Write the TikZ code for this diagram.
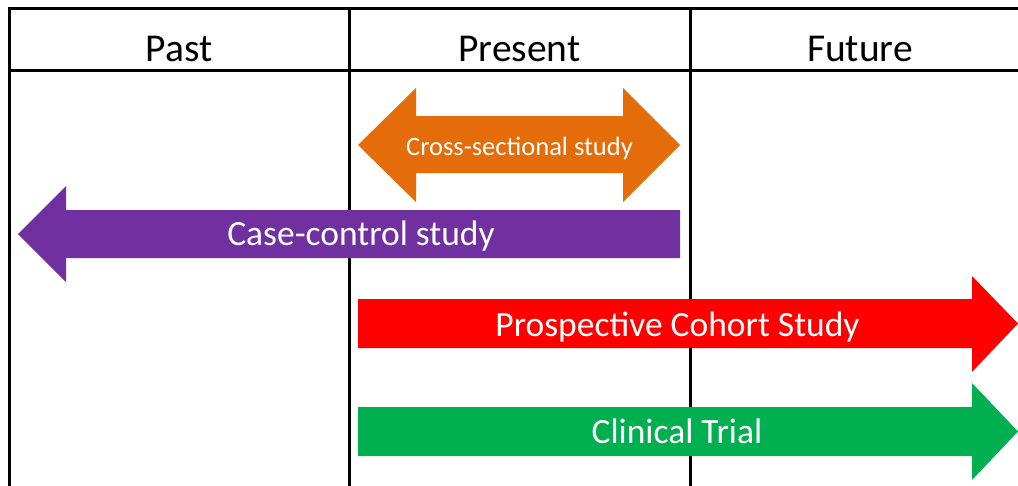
\documentclass[tikz,border=0pt]{standalone}
\usepackage{fontspec}
\setmainfont{Carlito}
\usetikzlibrary{positioning}
\definecolor{xsorange}{HTML}{E46C0A}
\definecolor{ccpurple}{HTML}{7030A0}
\definecolor{pcred}{HTML}{FF0000}
\definecolor{ctgreen}{HTML}{00B050}

\begin{document}
\begin{tikzpicture}[x=1pt,y=-1pt,
	gridline/.style={line width=3pt,black},
	hdnode/.style={anchor=base,inner sep=0pt,font=\fontsize{39.5}{40}\selectfont},
	arnode/.style={anchor=base,inner sep=0pt,text=white,font=\fontsize{35.5}{36}\selectfont}]
	\useasboundingbox (0,0) rectangle (1018,485);
	% table
	\draw[gridline] (1030,8) -- (9,8) -- (9,495);
	\draw[gridline] (9,70) -- (1030,70);
	\draw[gridline] (349,8) -- (349,495);
	\draw[gridline] (690,8) -- (690,495);
	\node[hdnode] (past) at (179,61) {Past};
	\node[hdnode] (present) at (519.5,61) {Present};
	\node[hdnode] (future) at (860,61) {Future};
	% study arrows
	\fill[xsorange] (358,145) -- (416,88) -- (416,116) -- (623,116) -- (623,88) -- (680,145)
		-- (623,202) -- (623,173) -- (416,173) -- (416,202) -- cycle;
	\node[arnode,font=\fontsize{26.5}{27}\selectfont] (xsect) at (519.5,155) {Cross-sectional study};
	\fill[ccpurple] (18,234) -- (66,186) -- (66,210) -- (680,210) -- (680,258) -- (66,258) -- (66,282) -- cycle;
	\node[arnode] (casectl) at (361,245) {Case-control study};
	\fill[pcred] (358,299) -- (972,299) -- (972,276) -- (1018,323.5) -- (972,372) -- (972,348) -- (358,348) -- cycle;
	\node[arnode] (cohort) at (677.5,336) {Prospective Cohort Study};
	\fill[ctgreen] (358,407) -- (972,407) -- (972,383) -- (1018,431.5) -- (972,480) -- (972,456) -- (358,456) -- cycle;
	\node[arnode] (trial) at (677,443) {Clinical Trial};
\end{tikzpicture}
\end{document}
